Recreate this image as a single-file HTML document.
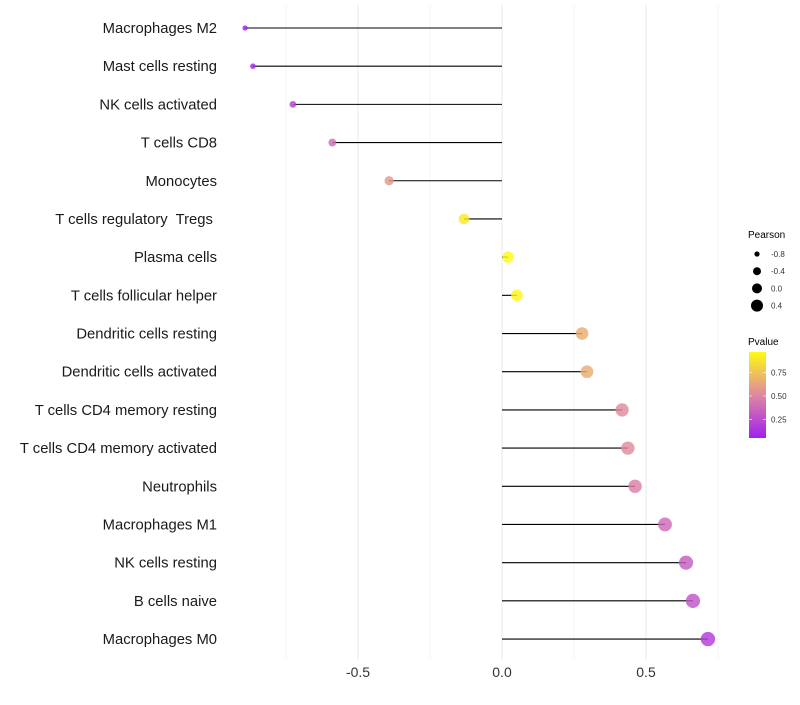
<!DOCTYPE html>
<html><head><meta charset="utf-8"><style>
body{margin:0;background:#fff;font-family:"Liberation Sans",sans-serif;}
</style></head><body>
<svg id="chart" width="800" height="700" xmlns="http://www.w3.org/2000/svg" font-family="Liberation Sans, sans-serif"></svg>
<script>
const categories=["Macrophages M2","Mast cells resting","NK cells activated","T cells CD8","Monocytes","T cells regulatory  Tregs ","Plasma cells","T cells follicular helper","Dendritic cells resting","Dendritic cells activated","T cells CD4 memory resting","T cells CD4 memory activated","Neutrophils","Macrophages M1","NK cells resting","B cells naive","Macrophages M0"];
const pearson=[-0.892,-0.865,-0.726,-0.589,-0.392,-0.132,0.021,0.052,0.278,0.295,0.417,0.437,0.462,0.566,0.639,0.663,0.715];
const pvalue=[0.05,0.08,0.2,0.4,0.58,0.9,0.97,0.95,0.66,0.66,0.52,0.52,0.47,0.38,0.32,0.28,0.18];
const xTicks=[-0.5,0,0.5];
const xTickLabels=["-0.5","0.0","0.5"];
const xMinor=[-0.75,-0.25,0.25,0.75];
const sizeLegend=[-0.8,-0.4,0.0,0.4];
const colorTicks=[0.25,0.5,0.75];

const svg=document.getElementById('chart');
const NS='http://www.w3.org/2000/svg';
const x=v=>502+v*288;
const y=i=>28+i*38.19;
const r=v=>Math.sqrt(Math.max(2,32+28*v));
function lerp(a,b,t){return a.map((c,i)=>Math.round(c+(b[i]-c)*t));}
function col(p){const lo=[160,32,240],mid=[222,136,160],hi=[255,250,20];
 const t=Math.max(0,Math.min(1,(p-0.05)/0.92));
 const c=t<0.5?lerp(lo,mid,t*2):lerp(mid,hi,(t-0.5)*2);return `rgb(${c})`;}
function el(tag,attrs,parent){const e=document.createElementNS(NS,tag);for(const k in attrs)e.setAttribute(k,attrs[k]);(parent||svg).appendChild(e);return e;}
const grid=el('g',{});


xMinor.forEach(v=>{el('line',{x1:x(v),x2:x(v),y1:5,y2:660,stroke:'#f2f2f2','stroke-width':0.7},grid);});
xTicks.forEach(v=>{el('line',{x1:x(v),x2:x(v),y1:5,y2:660,stroke:'#ebebeb','stroke-width':1.1},grid);});
categories.forEach((c,i)=>{
 const ln=el('line',{x1:x(0),x2:x(pearson[i]),y1:y(i),y2:y(i),stroke:'#000','stroke-width':1.1});
 
 
 const pt=el('circle',{cx:x(pearson[i]),cy:y(i),r:r(pearson[i]),fill:col(pvalue[i]),'fill-opacity':0.82});
 
 
 const t=el('text',{x:217,y:y(i)+5,'text-anchor':'end','font-size':14.8,fill:'#1a1a1a',style:'white-space:pre'});
 t.textContent=c;
 
 
});
xTicks.forEach((v,i)=>{const t=el('text',{x:x(v),y:677,'text-anchor':'middle','font-size':14,fill:'#333'});t.textContent=xTickLabels[i];
 
 });
const lt=el('text',{x:748,y:238,'font-size':10,fill:'#000'});lt.textContent='Pearson';


const lr=[2.6,4,5,6];
sizeLegend.forEach((v,i)=>{const cy=254+i*17.2;
 const c=el('circle',{cx:757,cy:cy,r:lr[i],fill:'#000'});
 
 
 const t=el('text',{x:771,y:cy+3,'font-size':8,fill:'#333'});t.textContent=v.toFixed(1);
 
 });
const ct=el('text',{x:748,y:345,'font-size':10,fill:'#000'});ct.textContent='Pvalue';


const defs=el('defs',{});const g=el('linearGradient',{id:'cg',x1:0,y1:1,x2:0,y2:0},defs);
[0,0.25,0.5,0.75,1].forEach(s=>el('stop',{offset:s,'stop-color':col(0.05+s*0.92)},g));
const bar=el('rect',{x:749,y:352,width:17,height:86,fill:'url(#cg)'});


colorTicks.forEach(v=>{const cy=438-(v-0.05)/0.92*86;
 el('line',{x1:749,x2:752,y1:cy,y2:cy,stroke:'#fff','stroke-width':0.6});
 el('line',{x1:763,x2:766,y1:cy,y2:cy,stroke:'#fff','stroke-width':0.6});
 const t=el('text',{x:771,y:cy+3,'font-size':8,fill:'#333'});t.textContent=v.toFixed(2);
 
 });
</script>
</body></html>
